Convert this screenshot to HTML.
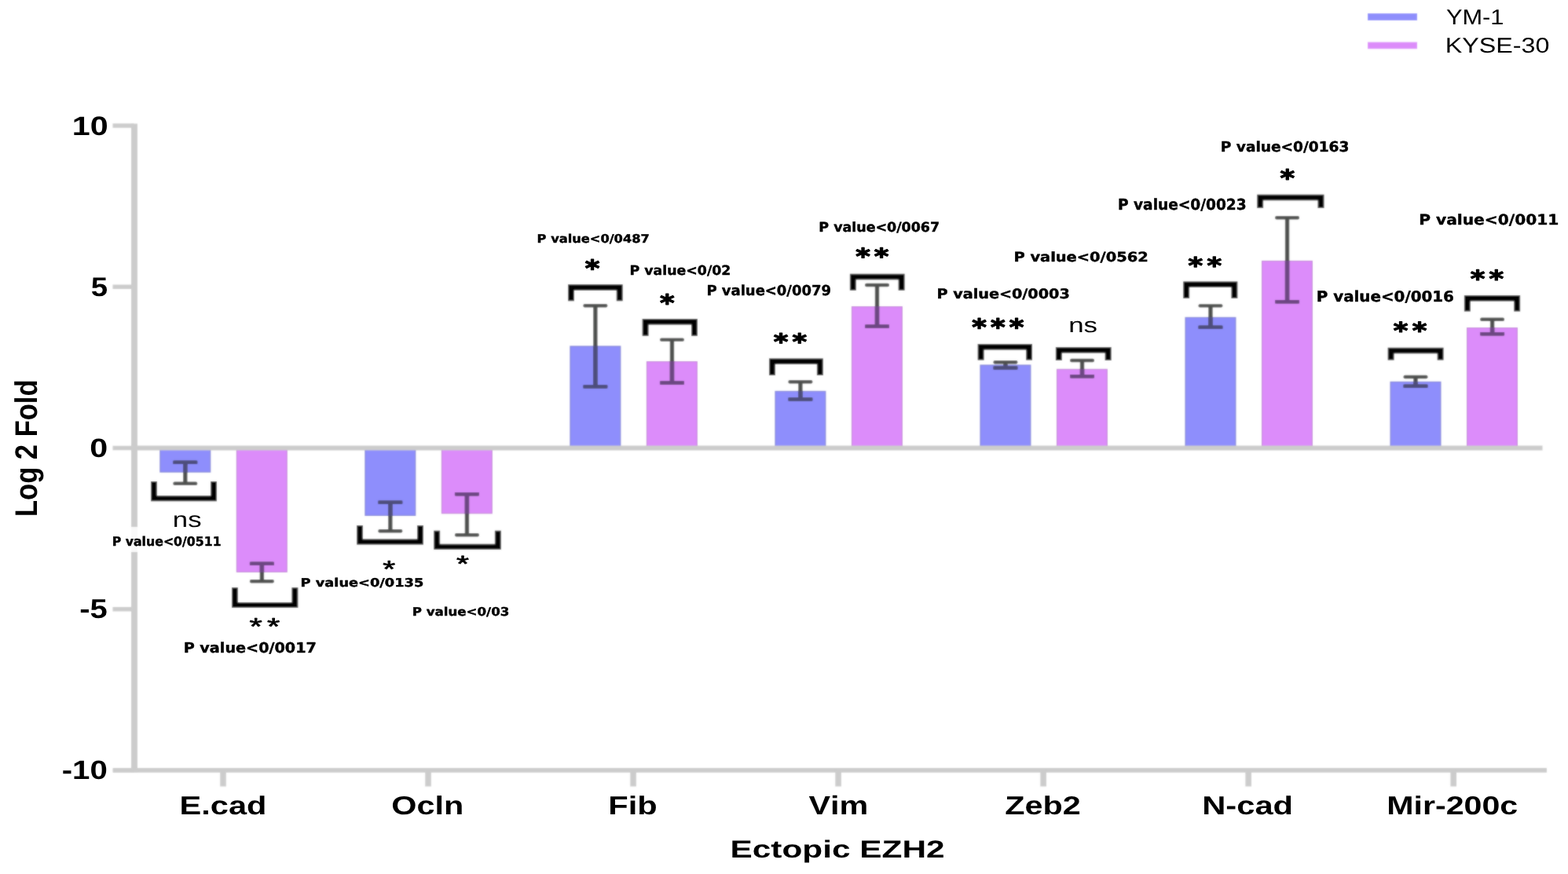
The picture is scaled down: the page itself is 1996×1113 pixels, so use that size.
<!DOCTYPE html>
<html><head><meta charset="utf-8"><title>Log 2 Fold - Ectopic EZH2</title>
<style>
html,body{margin:0;padding:0;background:#fff;}
body{width:1996px;height:1113px;overflow:hidden;}
svg{display:block;font-kerning:none;text-rendering:geometricPrecision;}

</style></head><body>
<svg width="1996" height="1113" viewBox="0 0 1996 1113"><defs><filter id="soft" x="0" y="0" width="1996" height="1113" filterUnits="userSpaceOnUse" primitiveUnits="userSpaceOnUse"><feGaussianBlur in="SourceGraphic" stdDeviation="1.0" result="b"/><feComposite in="SourceGraphic" in2="b" operator="arithmetic" k1="0" k2="0.4" k3="0.6" k4="0"/></filter></defs><g filter="url(#soft)"><rect width="1996" height="1113" fill="#fff"/><rect x="203.90" y="571.10" width="63.80" height="30.00" fill="#8e8efc" stroke="#7e80d8" stroke-width="1.2"/>
<rect x="301.40" y="571.10" width="63.80" height="157.20" fill="#dc8cfa" stroke="#c682da" stroke-width="1.2"/>
<rect x="464.93" y="571.10" width="63.80" height="85.30" fill="#8e8efc" stroke="#7e80d8" stroke-width="1.2"/>
<rect x="562.43" y="571.10" width="63.80" height="82.60" fill="#dc8cfa" stroke="#c682da" stroke-width="1.2"/>
<rect x="725.96" y="441.00" width="63.80" height="128.90" fill="#8e8efc" stroke="#7e80d8" stroke-width="1.2"/>
<rect x="823.46" y="460.60" width="63.80" height="109.30" fill="#dc8cfa" stroke="#c682da" stroke-width="1.2"/>
<rect x="986.99" y="498.40" width="63.80" height="71.50" fill="#8e8efc" stroke="#7e80d8" stroke-width="1.2"/>
<rect x="1084.49" y="390.60" width="63.80" height="179.30" fill="#dc8cfa" stroke="#c682da" stroke-width="1.2"/>
<rect x="1248.02" y="465.00" width="63.80" height="104.90" fill="#8e8efc" stroke="#7e80d8" stroke-width="1.2"/>
<rect x="1345.52" y="470.40" width="63.80" height="99.50" fill="#dc8cfa" stroke="#c682da" stroke-width="1.2"/>
<rect x="1509.05" y="404.40" width="63.80" height="165.50" fill="#8e8efc" stroke="#7e80d8" stroke-width="1.2"/>
<rect x="1606.55" y="332.50" width="63.80" height="237.40" fill="#dc8cfa" stroke="#c682da" stroke-width="1.2"/>
<rect x="1770.08" y="486.40" width="63.80" height="83.50" fill="#8e8efc" stroke="#7e80d8" stroke-width="1.2"/>
<rect x="1867.58" y="417.60" width="63.80" height="152.30" fill="#dc8cfa" stroke="#c682da" stroke-width="1.2"/>
<rect x="167.00" y="157.50" width="8.00" height="826.00" fill="#cccccc"/>
<rect x="143.50" y="157.25" width="27.00" height="5.50" fill="#cccccc"/>
<rect x="143.50" y="362.50" width="27.00" height="5.50" fill="#cccccc"/>
<rect x="143.50" y="567.75" width="27.00" height="5.50" fill="#cccccc"/>
<rect x="143.50" y="773.00" width="27.00" height="5.50" fill="#cccccc"/>
<rect x="143.50" y="978.25" width="27.00" height="5.50" fill="#cccccc"/>
<rect x="167.50" y="567.50" width="1796.00" height="6.00" fill="#cccccc"/>
<rect x="144.00" y="978.00" width="1825.00" height="5.80" fill="#cccccc"/>
<rect x="280.20" y="980.00" width="7.60" height="21.50" fill="#cccccc"/>
<rect x="541.23" y="980.00" width="7.60" height="21.50" fill="#cccccc"/>
<rect x="802.26" y="980.00" width="7.60" height="21.50" fill="#cccccc"/>
<rect x="1063.29" y="980.00" width="7.60" height="21.50" fill="#cccccc"/>
<rect x="1324.32" y="980.00" width="7.60" height="21.50" fill="#cccccc"/>
<rect x="1585.35" y="980.00" width="7.60" height="21.50" fill="#cccccc"/>
<rect x="1846.38" y="980.00" width="7.60" height="21.50" fill="#cccccc"/>
<rect x="140" y="671" width="146" height="32" fill="#fff" fill-opacity="0.88"/>
<g fill="#4e504e"><rect x="233.10" y="588.80" width="5.40" height="26.90" rx="0"/><rect x="220.30" y="586.60" width="31.00" height="4.40" rx="2"/><rect x="220.30" y="613.50" width="31.00" height="4.40" rx="2"/><rect x="330.70" y="717.80" width="5.40" height="22.50" rx="0"/><rect x="317.90" y="715.60" width="31.00" height="4.40" rx="2"/><rect x="317.90" y="738.10" width="31.00" height="4.40" rx="2"/><rect x="494.13" y="639.70" width="5.40" height="36.60" rx="0"/><rect x="481.33" y="637.50" width="31.00" height="4.40" rx="2"/><rect x="481.33" y="674.10" width="31.00" height="4.40" rx="2"/><rect x="591.73" y="629.20" width="5.40" height="52.10" rx="0"/><rect x="578.93" y="627.00" width="31.00" height="4.40" rx="2"/><rect x="578.93" y="679.10" width="31.00" height="4.40" rx="2"/><rect x="755.16" y="389.20" width="5.40" height="103.20" rx="0"/><rect x="742.36" y="387.00" width="31.00" height="4.40" rx="2"/><rect x="742.36" y="490.20" width="31.00" height="4.40" rx="2"/><rect x="852.76" y="432.60" width="5.40" height="54.90" rx="0"/><rect x="839.96" y="430.40" width="31.00" height="4.40" rx="2"/><rect x="839.96" y="485.30" width="31.00" height="4.40" rx="2"/><rect x="1016.19" y="486.20" width="5.40" height="22.30" rx="0"/><rect x="1003.39" y="484.00" width="31.00" height="4.40" rx="2"/><rect x="1003.39" y="506.30" width="31.00" height="4.40" rx="2"/><rect x="1113.79" y="363.00" width="5.40" height="52.60" rx="0"/><rect x="1100.99" y="360.80" width="31.00" height="4.40" rx="2"/><rect x="1100.99" y="413.40" width="31.00" height="4.40" rx="2"/><rect x="1277.22" y="461.20" width="5.40" height="7.30" rx="0"/><rect x="1264.42" y="459.00" width="31.00" height="4.40" rx="2"/><rect x="1264.42" y="466.30" width="31.00" height="4.40" rx="2"/><rect x="1374.82" y="459.00" width="5.40" height="20.20" rx="0"/><rect x="1362.02" y="456.80" width="31.00" height="4.40" rx="2"/><rect x="1362.02" y="477.00" width="31.00" height="4.40" rx="2"/><rect x="1538.25" y="389.40" width="5.40" height="27.40" rx="0"/><rect x="1525.45" y="387.20" width="31.00" height="4.40" rx="2"/><rect x="1525.45" y="414.60" width="31.00" height="4.40" rx="2"/><rect x="1635.85" y="277.30" width="5.40" height="107.00" rx="0"/><rect x="1623.05" y="275.10" width="31.00" height="4.40" rx="2"/><rect x="1623.05" y="382.10" width="31.00" height="4.40" rx="2"/><rect x="1799.28" y="480.00" width="5.40" height="11.70" rx="0"/><rect x="1786.48" y="477.80" width="31.00" height="4.40" rx="2"/><rect x="1786.48" y="489.50" width="31.00" height="4.40" rx="2"/><rect x="1896.88" y="406.70" width="5.40" height="18.50" rx="0"/><rect x="1884.08" y="404.50" width="31.00" height="4.40" rx="2"/><rect x="1884.08" y="423.00" width="31.00" height="4.40" rx="2"/></g>
<g><rect x="233.10" y="588.80" width="5.40" height="12.90" fill="#4d4d7c"/><rect x="220.30" y="586.60" width="31.00" height="4.40" fill="#4d4d7c"/><rect x="330.70" y="717.80" width="5.40" height="11.10" fill="#6c4682"/><rect x="317.90" y="715.60" width="31.00" height="4.40" fill="#6c4682"/><rect x="494.13" y="639.70" width="5.40" height="17.30" fill="#4d4d7c"/><rect x="481.33" y="637.50" width="31.00" height="4.40" fill="#4d4d7c"/><rect x="591.73" y="629.20" width="5.40" height="25.10" fill="#6c4682"/><rect x="578.93" y="627.00" width="31.00" height="4.40" fill="#6c4682"/><rect x="755.16" y="440.40" width="5.40" height="52.00" fill="#4d4d7c"/><rect x="742.36" y="490.20" width="31.00" height="4.40" fill="#4d4d7c"/><rect x="852.76" y="460.00" width="5.40" height="27.50" fill="#6c4682"/><rect x="839.96" y="485.30" width="31.00" height="4.40" fill="#6c4682"/><rect x="1016.19" y="497.80" width="5.40" height="10.70" fill="#4d4d7c"/><rect x="1003.39" y="506.30" width="31.00" height="4.40" fill="#4d4d7c"/><rect x="1113.79" y="390.00" width="5.40" height="25.60" fill="#6c4682"/><rect x="1100.99" y="413.40" width="31.00" height="4.40" fill="#6c4682"/><rect x="1277.22" y="464.40" width="5.40" height="4.10" fill="#4d4d7c"/><rect x="1264.42" y="466.30" width="31.00" height="4.40" fill="#4d4d7c"/><rect x="1374.82" y="469.80" width="5.40" height="9.40" fill="#6c4682"/><rect x="1362.02" y="477.00" width="31.00" height="4.40" fill="#6c4682"/><rect x="1538.25" y="403.80" width="5.40" height="13.00" fill="#4d4d7c"/><rect x="1525.45" y="414.60" width="31.00" height="4.40" fill="#4d4d7c"/><rect x="1635.85" y="331.90" width="5.40" height="52.40" fill="#6c4682"/><rect x="1623.05" y="382.10" width="31.00" height="4.40" fill="#6c4682"/><rect x="1799.28" y="485.80" width="5.40" height="5.90" fill="#4d4d7c"/><rect x="1786.48" y="489.50" width="31.00" height="4.40" fill="#4d4d7c"/><rect x="1896.88" y="417.00" width="5.40" height="8.20" fill="#6c4682"/><rect x="1884.08" y="423.00" width="31.00" height="4.40" fill="#6c4682"/></g>
<path d="M192.00,613.00 V638.20 H276.00 V613.00 H268.20 V631.20 H199.80 V613.00 Z" fill="#000"/>
<path d="M295.00,748.20 V774.00 H379.30 V748.20 H371.50 V767.00 H302.80 V748.20 Z" fill="#000"/>
<path d="M454.20,668.90 V693.60 H538.90 V668.90 H531.10 V686.60 H462.00 V668.90 Z" fill="#000"/>
<path d="M552.30,675.70 V699.70 H637.70 V675.70 H629.90 V692.70 H560.10 V675.70 Z" fill="#000"/>
<path d="M723.10,383.20 V362.20 H792.60 V383.20 H784.80 V369.80 H730.90 V383.20 Z" fill="#000"/>
<path d="M817.70,427.70 V405.90 H887.80 V427.70 H880.00 V413.50 H825.50 V427.70 Z" fill="#000"/>
<path d="M979.00,478.00 V456.50 H1047.70 V478.00 H1039.90 V464.10 H986.80 V478.00 Z" fill="#000"/>
<path d="M1081.90,369.70 V348.70 H1151.50 V369.70 H1143.70 V356.30 H1089.70 V369.70 Z" fill="#000"/>
<path d="M1244.70,458.50 V438.00 H1314.00 V458.50 H1306.20 V445.60 H1252.50 V458.50 Z" fill="#000"/>
<path d="M1343.90,459.00 V442.00 H1414.50 V459.00 H1406.70 V449.60 H1351.70 V459.00 Z" fill="#000"/>
<path d="M1506.30,380.00 V358.40 H1575.30 V380.00 H1567.50 V366.00 H1514.10 V380.00 Z" fill="#000"/>
<path d="M1600.30,265.00 V247.70 H1685.40 V265.00 H1677.60 V255.30 H1608.10 V265.00 Z" fill="#000"/>
<path d="M1766.70,458.60 V442.70 H1837.50 V458.60 H1829.70 V450.30 H1774.50 V458.60 Z" fill="#000"/>
<path d="M1863.90,396.50 V376.00 H1935.10 V396.50 H1927.30 V383.60 H1871.70 V396.50 Z" fill="#000"/>
<rect x="1741.00" y="17.00" width="63.00" height="9.00" fill="#8e8efc"/>
<rect x="1741.00" y="53.60" width="63.00" height="8.60" fill="#dc8cfa"/></g>
<g fill="#000"><text transform="translate(91.72,171.56) scale(1.2165,1)" font-family="'Liberation Sans', Arial, sans-serif" font-weight="bold" font-size="33.94">10</text>
<text transform="translate(115.75,376.66) scale(1.1294,1)" font-family="'Liberation Sans', Arial, sans-serif" font-weight="bold" font-size="34.00">5</text>
<text transform="translate(114.35,581.66) scale(1.2207,1)" font-family="'Liberation Sans', Arial, sans-serif" font-weight="bold" font-size="33.80">0</text>
<text transform="translate(101.20,786.66) scale(1.1618,1)" font-family="'Liberation Sans', Arial, sans-serif" font-weight="bold" font-size="34.43">-5</text>
<text transform="translate(78.69,992.26) scale(1.1898,1)" font-family="'Liberation Sans', Arial, sans-serif" font-weight="bold" font-size="33.80">-10</text>
<text transform="translate(47.04,658.04) scale(1.1519,1) rotate(-90)" font-family="'Liberation Sans', Arial, sans-serif" font-weight="bold" font-size="34.54">Log 2 Fold</text>
<text transform="translate(929.55,1091.96) scale(1.3617,1)" font-family="'Liberation Sans', Arial, sans-serif" font-weight="bold" font-size="31.12">Ectopic EZH2</text>
<text transform="translate(228.60,1036.67) scale(1.2616,1)" font-family="'Liberation Sans', Arial, sans-serif" font-weight="bold" font-size="32.93">E.cad</text>
<text transform="translate(498.35,1036.67) scale(1.2564,1)" font-family="'Liberation Sans', Arial, sans-serif" font-weight="bold" font-size="32.93">Ocln</text>
<text transform="translate(774.30,1036.67) scale(1.2628,1)" font-family="'Liberation Sans', Arial, sans-serif" font-weight="bold" font-size="32.93">Fib</text>
<text transform="translate(1029.39,1037.00) scale(1.2379,1)" font-family="'Liberation Sans', Arial, sans-serif" font-weight="bold" font-size="33.38">Vim</text>
<text transform="translate(1279.36,1036.67) scale(1.2551,1)" font-family="'Liberation Sans', Arial, sans-serif" font-weight="bold" font-size="32.93">Zeb2</text>
<text transform="translate(1530.19,1036.67) scale(1.2665,1)" font-family="'Liberation Sans', Arial, sans-serif" font-weight="bold" font-size="32.93">N-cad</text>
<text transform="translate(1765.22,1036.67) scale(1.2502,1)" font-family="'Liberation Sans', Arial, sans-serif" font-weight="bold" font-size="32.93">Mir-200c</text>
<text transform="translate(1840.93,30.70) scale(1.1228,1)" font-family="'Liberation Sans', Arial, sans-serif" font-weight="normal" font-size="27.39">YM-1</text>
<text transform="translate(1839.82,66.73) scale(1.1857,1)" font-family="'Liberation Sans', Arial, sans-serif" font-weight="normal" font-size="27.18">KYSE-30</text>
<text transform="translate(219.84,670.52) scale(1.2579,1)" font-family="'Liberation Sans', Arial, sans-serif" font-weight="normal" font-size="27.64">ns</text>
<text transform="translate(1360.23,422.93) scale(1.3136,1)" font-family="'Liberation Sans', Arial, sans-serif" font-weight="normal" font-size="26.55">ns</text>
<text transform="translate(317.58,808.25) scale(1.3830,1)" letter-spacing="4.34" font-family="'Liberation Sans', Arial, sans-serif" font-weight="normal" font-size="30.29" stroke="#000" stroke-width="0.7" stroke-linejoin="round">**</text>
<text transform="translate(487.30,734.65) scale(1.3547,1)" font-family="'Liberation Sans', Arial, sans-serif" font-weight="normal" font-size="30.29" stroke="#000" stroke-width="0.7" stroke-linejoin="round">*</text>
<text transform="translate(581.10,728.16) scale(1.3942,1)" font-family="'Liberation Sans', Arial, sans-serif" font-weight="normal" font-size="29.43" stroke="#000" stroke-width="0.7" stroke-linejoin="round">*</text>
<text transform="translate(744.81,351.86) scale(1.1976,1)" letter-spacing="0.00" font-family="'DejaVu Sans', Verdana, sans-serif" font-weight="bold" font-size="29.68" stroke="#000" stroke-width="1.2" stroke-linejoin="round">*</text>
<text transform="translate(839.91,395.70) scale(1.2063,1)" letter-spacing="0.00" font-family="'DejaVu Sans', Verdana, sans-serif" font-weight="bold" font-size="29.46" stroke="#000" stroke-width="1.2" stroke-linejoin="round">*</text>
<text transform="translate(984.81,445.05) scale(1.2616,1)" letter-spacing="4.13" font-family="'DejaVu Sans', Verdana, sans-serif" font-weight="bold" font-size="28.17" stroke="#000" stroke-width="1.2" stroke-linejoin="round">**</text>
<text transform="translate(1089.21,336.33) scale(1.2812,1)" letter-spacing="3.91" font-family="'DejaVu Sans', Verdana, sans-serif" font-weight="bold" font-size="27.74" stroke="#000" stroke-width="1.2" stroke-linejoin="round">**</text>
<text transform="translate(1237.31,426.86) scale(1.1976,1)" letter-spacing="4.27" font-family="'DejaVu Sans', Verdana, sans-serif" font-weight="bold" font-size="29.68" stroke="#000" stroke-width="1.2" stroke-linejoin="round">***</text>
<text transform="translate(1512.41,347.71) scale(1.2520,1)" letter-spacing="4.40" font-family="'DejaVu Sans', Verdana, sans-serif" font-weight="bold" font-size="28.39" stroke="#000" stroke-width="1.2" stroke-linejoin="round">**</text>
<text transform="translate(1629.41,236.50) scale(1.2063,1)" letter-spacing="0.00" font-family="'DejaVu Sans', Verdana, sans-serif" font-weight="bold" font-size="29.46" stroke="#000" stroke-width="1.2" stroke-linejoin="round">*</text>
<text transform="translate(1773.81,431.12) scale(1.2333,1)" letter-spacing="4.31" font-family="'DejaVu Sans', Verdana, sans-serif" font-weight="bold" font-size="28.82" stroke="#000" stroke-width="1.2" stroke-linejoin="round">**</text>
<text transform="translate(1871.81,364.68) scale(1.2242,1)" letter-spacing="4.26" font-family="'DejaVu Sans', Verdana, sans-serif" font-weight="bold" font-size="29.03" stroke="#000" stroke-width="1.2" stroke-linejoin="round">**</text>
<text transform="translate(142.74,695.20) scale(1.0744,1)" font-family="'DejaVu Sans Condensed', 'DejaVu Sans', sans-serif" font-weight="bold" font-stretch="condensed" font-size="16.30" stroke="#000" stroke-width="0.4" stroke-linejoin="round">P value&lt;0/0511</text>
<text transform="translate(233.63,831.10) scale(1.1891,1)" font-family="'DejaVu Sans Condensed', 'DejaVu Sans', sans-serif" font-weight="bold" font-stretch="condensed" font-size="17.95" stroke="#000" stroke-width="0.4" stroke-linejoin="round">P value&lt;0/0017</text>
<text transform="translate(382.56,747.30) scale(1.3355,1)" font-family="'DejaVu Sans Condensed', 'DejaVu Sans', sans-serif" font-weight="bold" font-stretch="condensed" font-size="14.79" stroke="#000" stroke-width="0.4" stroke-linejoin="round">P value&lt;0/0135</text>
<text transform="translate(524.76,784.40) scale(1.2382,1)" font-family="'DejaVu Sans Condensed', 'DejaVu Sans', sans-serif" font-weight="bold" font-stretch="condensed" font-size="14.93" stroke="#000" stroke-width="0.4" stroke-linejoin="round">P value&lt;0/03</text>
<text transform="translate(683.60,309.40) scale(1.2089,1)" font-family="'DejaVu Sans Condensed', 'DejaVu Sans', sans-serif" font-weight="bold" font-stretch="condensed" font-size="14.93" stroke="#000" stroke-width="0.4" stroke-linejoin="round">P value&lt;0/0487</text>
<text transform="translate(801.60,350.40) scale(1.1538,1)" font-family="'DejaVu Sans Condensed', 'DejaVu Sans', sans-serif" font-weight="bold" font-stretch="condensed" font-size="16.71" stroke="#000" stroke-width="0.4" stroke-linejoin="round">P value&lt;0/02</text>
<text transform="translate(899.44,376.30) scale(1.1132,1)" font-family="'DejaVu Sans Condensed', 'DejaVu Sans', sans-serif" font-weight="bold" font-stretch="condensed" font-size="17.95" stroke="#000" stroke-width="0.4" stroke-linejoin="round">P value&lt;0/0079</text>
<text transform="translate(1042.29,294.60) scale(1.1506,1)" font-family="'DejaVu Sans Condensed', 'DejaVu Sans', sans-serif" font-weight="bold" font-stretch="condensed" font-size="16.85" stroke="#000" stroke-width="0.4" stroke-linejoin="round">P value&lt;0/0067</text>
<text transform="translate(1192.53,380.10) scale(1.2462,1)" font-family="'DejaVu Sans Condensed', 'DejaVu Sans', sans-serif" font-weight="bold" font-stretch="condensed" font-size="17.12" stroke="#000" stroke-width="0.4" stroke-linejoin="round">P value&lt;0/0003</text>
<text transform="translate(1290.41,332.70) scale(1.2810,1)" font-family="'DejaVu Sans Condensed', 'DejaVu Sans', sans-serif" font-weight="bold" font-stretch="condensed" font-size="16.85" stroke="#000" stroke-width="0.4" stroke-linejoin="round">P value&lt;0/0562</text>
<text transform="translate(1422.99,266.80) scale(1.0751,1)" font-family="'DejaVu Sans Condensed', 'DejaVu Sans', sans-serif" font-weight="bold" font-stretch="condensed" font-size="19.18" stroke="#000" stroke-width="0.4" stroke-linejoin="round">P value&lt;0/0023</text>
<text transform="translate(1553.79,192.90) scale(1.1490,1)" font-family="'DejaVu Sans Condensed', 'DejaVu Sans', sans-serif" font-weight="bold" font-stretch="condensed" font-size="17.95" stroke="#000" stroke-width="0.4" stroke-linejoin="round">P value&lt;0/0163</text>
<text transform="translate(1675.77,384.00) scale(1.1757,1)" font-family="'DejaVu Sans Condensed', 'DejaVu Sans', sans-serif" font-weight="bold" font-stretch="condensed" font-size="18.77" stroke="#000" stroke-width="0.4" stroke-linejoin="round">P value&lt;0/0016</text>
<text transform="translate(1806.14,285.50) scale(1.2338,1)" font-family="'DejaVu Sans Condensed', 'DejaVu Sans', sans-serif" font-weight="bold" font-stretch="condensed" font-size="18.22" stroke="#000" stroke-width="0.4" stroke-linejoin="round">P value&lt;0/0011</text></g></svg>
</body></html>
